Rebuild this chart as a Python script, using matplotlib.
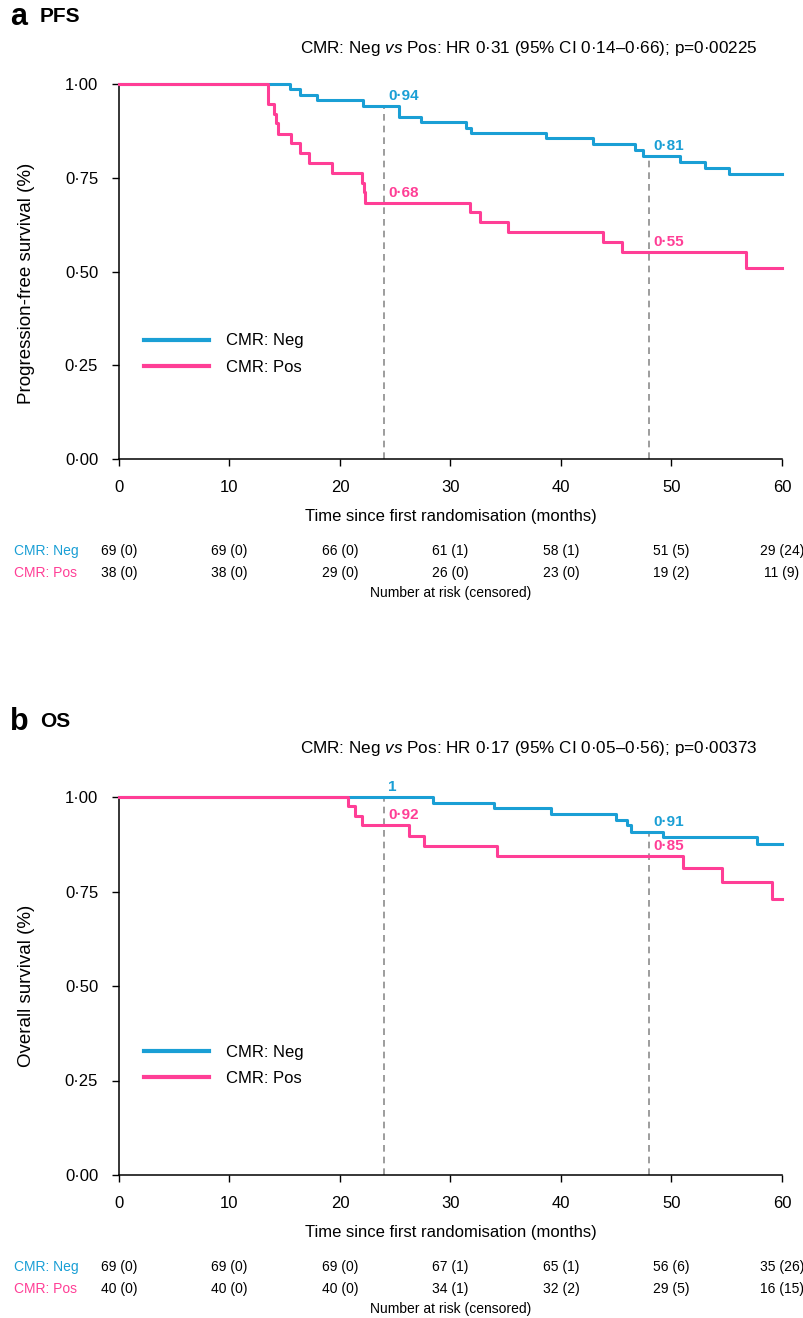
import numpy as np
import matplotlib
matplotlib.use("Agg")
import matplotlib.pyplot as plt
from matplotlib.lines import Line2D

plt.rcParams['font.family'] = ['Liberation Sans', 'DejaVu Sans']
plt.rcParams['mathtext.fontset'] = 'custom'
plt.rcParams['mathtext.rm'] = 'Liberation Sans'
plt.rcParams['mathtext.it'] = 'Liberation Sans:italic'

BLUE = '#1a9fd5'
PINK = '#ff3e96'

# --- data ---
# PFS
pfs_neg_t = [15.5, 16.4, 17.95, 22.1, 25.3, 27.3, 31.4, 31.9, 38.6, 42.9, 46.7, 47.4, 50.8, 53.0, 55.2]
pfs_neg_s = [0.986, 0.971, 0.957, 0.942, 0.913, 0.899, 0.884, 0.870, 0.855, 0.840, 0.825, 0.808, 0.792, 0.776, 0.759]
pfs_pos_t = [13.45, 14.0, 14.2, 14.4, 15.6, 16.4, 17.2, 19.3, 22.0, 22.2, 22.3, 31.8, 32.7, 35.2, 43.8, 45.5, 56.7]
pfs_pos_s = [0.947, 0.921, 0.895, 0.868, 0.842, 0.816, 0.789, 0.763, 0.737, 0.711, 0.684, 0.658, 0.632, 0.606, 0.579, 0.552, 0.510]
# OS
os_neg_t = [28.4, 33.9, 39.1, 45.0, 46.0, 46.3, 49.2, 57.7]
os_neg_s = [0.985, 0.970, 0.955, 0.940, 0.925, 0.908, 0.893, 0.875]
os_pos_t = [20.7, 21.4, 22.0, 26.2, 27.6, 34.2, 51.0, 54.6, 59.1]
os_pos_s = [0.975, 0.950, 0.925, 0.897, 0.870, 0.845, 0.812, 0.774, 0.731]

landmarks = [24, 48]
pfs_marks_neg = ['0·94', '0·81']
pfs_marks_pos = ['0·68', '0·55']
os_marks_neg = ['1', '0·91']
os_marks_pos = ['0·92', '0·85']

risk_times = [0, 10, 20, 30, 40, 50, 60]
pfs_risk_neg = ['69 (0)', '69 (0)', '66 (0)', '61 (1)', '58 (1)', '51 (5)', '29 (24)']
pfs_risk_pos = ['38 (0)', '38 (0)', '29 (0)', '26 (0)', '23 (0)', '19 (2)', '11 (9)']
os_risk_neg = ['69 (0)', '69 (0)', '69 (0)', '67 (1)', '65 (1)', '56 (6)', '35 (26)']
os_risk_pos = ['40 (0)', '40 (0)', '40 (0)', '34 (1)', '32 (2)', '29 (5)', '16 (15)']

yticks = [0, 0.25, 0.5, 0.75, 1.0]
ytick_labels = ['0·00', '0·25', '0·50', '0·75', '1·00']

W, H = 804, 1318
fig = plt.figure(figsize=(W / 100, H / 100), dpi=100)


def fy(px):
    return 1 - px / H


def km(t, s):
    t = np.concatenate([[0], t, [60]])
    s = np.concatenate([[1.0], s, [s[-1]]])
    return t, s


def surv_at(t, s, x):
    tt, ss = km(t, s)
    return ss[np.searchsorted(tt, x, side='right') - 1]


def panel(top, bottom, letter, name, title, ylabel, neg, pos, marks_neg, marks_pos,
          risk_neg, risk_pos, legend_y, letter_off, title_off, ylab_y):
    ax = fig.add_axes([119 / W, fy(bottom), 663 / W, (bottom - top) / H])
    for (t, s), c, lab in [(neg, BLUE, 'CMR: Neg'), (pos, PINK, 'CMR: Pos')]:
        tt, ss = km(t, s)
        ax.step(tt, ss, where='post', color=c, lw=2.2, label=lab, clip_on=False, zorder=3)
    for i, x in enumerate(landmarks):
        top_val = max(surv_at(*neg, x), surv_at(*pos, x))
        ax.plot([x, x], [0, top_val], color='#8c8c8c', lw=1.2, ls=(0, (4, 3)), zorder=2)
        ax.text(x + 0.35, surv_at(*neg, x) + 0.008, marks_neg[i], color=BLUE,
                fontsize=11, fontweight='bold', ha='left', va='bottom')
        ax.text(x + 0.35, surv_at(*pos, x) + 0.008, marks_pos[i], color=PINK,
                fontsize=11, fontweight='bold', ha='left', va='bottom')
    ax.set_xlim(0, 60)
    ax.set_ylim(0, 1)
    ax.set_xticks(risk_times)
    ax.set_yticks(yticks)
    ax.set_yticklabels(ytick_labels)
    ax.tick_params(labelsize=12, length=5, width=1, direction='out')
    ax.tick_params(axis='x', pad=10)
    ax.tick_params(axis='y', pad=10)
    for sp in ['top', 'right']:
        ax.spines[sp].set_visible(False)
    for sp in ['left', 'bottom']:
        ax.spines[sp].set_linewidth(1.1)
    ax.set_ylabel(ylabel, fontsize=13.5)
    ax.yaxis.set_label_coords(-0.127, ylab_y)
    ax.set_xlabel('Time since first randomisation (months)', fontsize=12, labelpad=10)

    handles = [Line2D([], [], color=BLUE, lw=3), Line2D([], [], color=PINK, lw=3)]
    ax.legend(handles, ['CMR: Neg', 'CMR: Pos'], loc='center left', frameon=False,
              bbox_to_anchor=(0.015, legend_y), fontsize=12, handlelength=3.9,
              handletextpad=1.0, labelspacing=0.7)

    fig.text(10 / W, fy(top - letter_off), letter, fontsize=22, fontweight='bold', va='center')
    fig.text(40 / W, fy(top - letter_off), name, fontsize=15, fontweight='bold', va='center')
    fig.text(300 / W, fy(top - title_off), title, fontsize=12.3, va='center')

    tr = ax.get_xaxis_transform()
    fig.text(14 / W, fy(bottom + 92), 'CMR: Neg', color=BLUE, fontsize=10, va='center')
    fig.text(14 / W, fy(bottom + 114), 'CMR: Pos', color=PINK, fontsize=10, va='center')
    for x, a, b in zip(risk_times, risk_neg, risk_pos):
        ax.text(x, -92 / (bottom - top), a, transform=tr, fontsize=10, ha='center', va='center')
        ax.text(x, -114 / (bottom - top), b, transform=tr, fontsize=10, ha='center', va='center')
    ax.text(30, -134 / (bottom - top), 'Number at risk (censored)', transform=tr,
            fontsize=10, ha='center', va='center')
    return ax


panel(84, 459.3, 'a', 'PFS',
      'CMR: Neg $\\mathit{vs}$ Pos: HR 0·31 (95% CI 0·14–0·66); p=0·00225',
      'Progression-free survival (%)',
      (pfs_neg_t, pfs_neg_s), (pfs_pos_t, pfs_pos_s), pfs_marks_neg, pfs_marks_pos,
      pfs_risk_neg, pfs_risk_pos, 0.28, 67, 36, 0.47)

panel(797, 1175, 'b', 'OS',
      'CMR: Neg $\\mathit{vs}$ Pos: HR 0·17 (95% CI 0·05–0·56); p=0·00373',
      'Overall survival (%)',
      (os_neg_t, os_neg_s), (os_pos_t, os_pos_s), os_marks_neg, os_marks_pos,
      os_risk_neg, os_risk_pos, 0.29, 75, 48, 0.5)

fig.savefig('out.png', dpi=100)
